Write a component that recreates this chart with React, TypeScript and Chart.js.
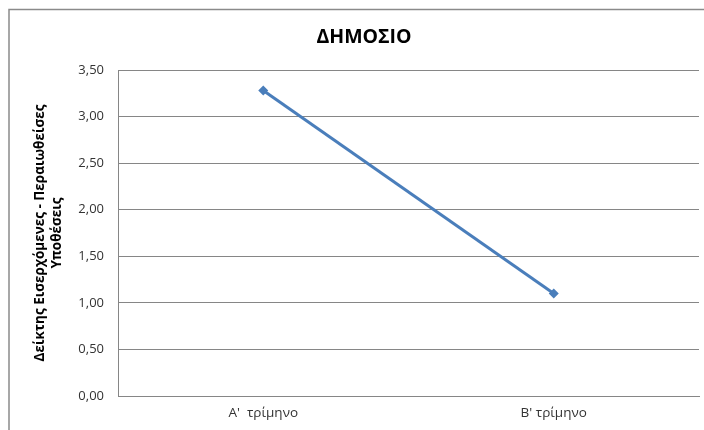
import React, { useEffect, useRef } from "react";
import { Chart, registerables } from "chart.js";

Chart.register(...registerables);

const categories = ["Α'  τρίμηνο", "Β' τρίμηνο"];
const values = [3.28, 1.1];
const chartTitle = "ΔΗΜΟΣΙΟ";
const yAxisTitle = ["Δείκτης Εισερχόμενες - Περαιωθείσες", "Υποθέσεις"];
const yMin = 0;
const yMax = 3.5;
const yStep = 0.5;

const framePlugin = {
  id: "frame",
  beforeDraw(chart: any) {
    const ctx = chart.ctx;
    ctx.save();
    ctx.fillStyle = "#ffffff";
    ctx.fillRect(0, 0, chart.width, chart.height);
    ctx.strokeStyle = "#8a8a8a";
    ctx.lineWidth = 1.5;
    ctx.strokeRect(9, 9.5, 1000, 1000);
    ctx.restore();
  },
};

export default function App() {
  const ref = useRef<HTMLCanvasElement | null>(null);
  useEffect(() => {
    document.body.style.margin = "0";
    const canvas = ref.current;
    if (!canvas) return;
    const chart = new Chart(canvas, {
      type: "line",
      data: {
        labels: categories,
        datasets: [
          {
            data: values,
            borderColor: "#4A7EBB",
            backgroundColor: "#4A7EBB",
            borderWidth: 3,
            pointStyle: "rectRot",
            pointRadius: 5,
            pointBorderWidth: 0,
            tension: 0,
          },
        ],
      },
      options: {
        animation: false,
        responsive: false,
        devicePixelRatio: 1,
        layout: { padding: { left: 29, right: 5, top: 0, bottom: 4 } },
        plugins: {
          legend: { display: false },
          tooltip: { enabled: false },
          title: {
            display: true,
            text: chartTitle,
            color: "#000000",
            font: { family: "Open Sans", size: 19.5, weight: "bold", lineHeight: 1.2 },
            padding: { top: 25.3, bottom: 21.3 },
          },
        },
        scales: {
          x: {
            offset: true,
            grid: { display: false, drawTicks: false },
            border: { display: true, color: "#868686", width: 1 },
            ticks: {
              color: "#333333",
              font: { family: "Open Sans", size: 13.5 },
              padding: 9,
            },
            afterFit(scale: any) {
              scale.height = 30;
            },
          },
          y: {
            min: yMin,
            max: yMax,
            grid: { color: "#868686", drawTicks: false, lineWidth: 1 },
            border: { display: true, color: "#868686", width: 1 },
            ticks: {
              stepSize: yStep,
              color: "#333333",
              font: { family: "Open Sans", size: 13 },
              padding: 14,
              callback: (v: any) => Number(v).toFixed(2).replace(".", ","),
            },
            title: {
              display: true,
              text: yAxisTitle,
              color: "#000000",
              font: { family: "Open Sans", size: 13.5, weight: "bold", lineHeight: 1.25 },
              padding: { top: 2.5, bottom: 0 },
            },
            afterFit(scale: any) {
              scale.width = 89;
            },
          },
        },
      },
      plugins: [framePlugin],
    });
    return () => chart.destroy();
  }, []);
  return <canvas ref={ref} width={704} height={430} style={{ display: "block" }} />;
}
